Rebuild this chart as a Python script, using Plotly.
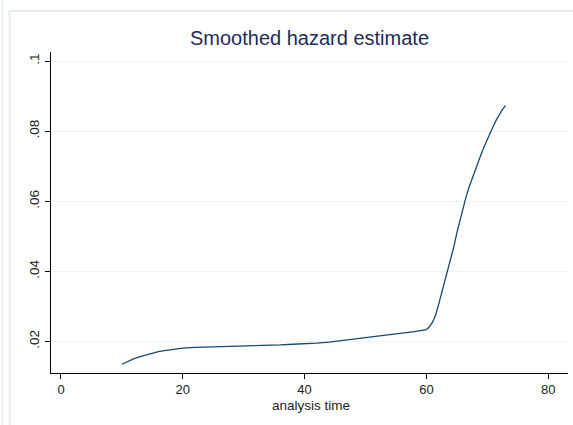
import plotly.graph_objects as go

# Smoothed hazard estimate over analysis time
analysis_time = [10, 11, 12, 13, 14, 15, 16, 17, 18, 19, 20, 22, 24, 26, 28, 30, 32, 34, 36, 38,
                 40, 42, 44, 46, 48, 50, 52, 54, 56, 58, 60, 60.5, 61, 61.5, 62, 62.5, 63, 63.5,
                 64, 64.5, 65, 65.5, 66, 66.5, 67, 67.5, 68, 68.5, 69, 69.5, 70, 70.5, 71, 71.5,
                 72, 72.5, 73]
hazard = [0.0135, 0.0144, 0.0151, 0.0157, 0.0162, 0.0167, 0.0171, 0.0174, 0.0177, 0.0180,
          0.0181, 0.0183, 0.0184, 0.0185, 0.0185, 0.0185, 0.0186, 0.0188, 0.0190, 0.0192,
          0.0193, 0.0195, 0.0198, 0.0202, 0.0207, 0.0211, 0.0215, 0.0219, 0.0223, 0.0228,
          0.0234, 0.0242, 0.0255, 0.0275, 0.0305, 0.0337, 0.0368, 0.0398, 0.0435, 0.0470,
          0.0510, 0.0545, 0.0582, 0.0612, 0.0640, 0.0665, 0.0690, 0.0715, 0.0735, 0.0757,
          0.0778, 0.0797, 0.0815, 0.0833, 0.0848, 0.0862, 0.0873]

x_ticks = [0, 20, 40, 60, 80]
y_ticks = [0.02, 0.04, 0.06, 0.08, 0.1]
y_tick_labels = [".02", ".04", ".06", ".08", ".1"]

FONT = "Arial, Liberation Sans, sans-serif"
FRAME = "#e6edef"
TEXT = "#222222"

fig = go.Figure()
fig.add_trace(go.Scatter(
    x=analysis_time, y=hazard, mode="lines",
    line=dict(color="#1a476f", width=1.3),
    showlegend=False, hoverinfo="skip",
))

fig.update_layout(
    width=573, height=425,
    margin=dict(l=51, r=5, t=52, b=52),
    paper_bgcolor="white", plot_bgcolor="white",
    font=dict(family=FONT, color=TEXT, size=12),
    title=dict(
        text="Smoothed hazard estimate",
        x=0.5, xref="paper", xanchor="center",
        y=1 - 38 / 425, yref="container", yanchor="middle",
        font=dict(family=FONT, size=20, color="#1e2c58"),
    ),
    xaxis=dict(
        range=[-1.64, 83.25], tickvals=x_ticks,
        showgrid=False, zeroline=False,
        showline=True, linecolor="black", linewidth=1.3,
        ticks="outside", ticklen=5, tickcolor="black", tickwidth=1,
        ticklabelstandoff=-1,
        tickfont=dict(size=13, color=TEXT),
    ),
    yaxis=dict(
        range=[0.011, 0.1026], tickvals=y_ticks, ticktext=y_tick_labels,
        tickangle=-90,
        showgrid=True, gridcolor="#eef3f3", gridwidth=1.2, zeroline=False,
        showline=True, linecolor="black", linewidth=1.3,
        ticks="outside", ticklen=5, tickcolor="black", tickwidth=1,
        tickfont=dict(size=13.5, color=TEXT),
    ),
    annotations=[dict(
        text="analysis time", xref="paper", yref="paper",
        x=(310.5 - 51) / 517, y=(373 - 405.5) / 321,
        xanchor="center", yanchor="middle", showarrow=False,
        font=dict(family=FONT, size=13.5, color=TEXT),
    )],
    shapes=[
        # outer graph-region border lines
        dict(type="line", xref="paper", yref="paper",
             x0=(2.5 - 51) / 517, x1=(2.5 - 51) / 517, y0=-0.5, y1=1.5,
             line=dict(color=FRAME, width=1.5), layer="below"),
        dict(type="line", xref="paper", yref="paper",
             x0=(9.5 - 51) / 517, x1=(9.5 - 51) / 517, y0=-0.5, y1=(373 - 11) / 321,
             line=dict(color=FRAME, width=2), layer="below"),
        dict(type="line", xref="paper", yref="paper",
             x0=(9.5 - 51) / 517, x1=1.5, y0=(373 - 11) / 321, y1=(373 - 11) / 321,
             line=dict(color=FRAME, width=2), layer="below"),
    ],
)

fig.write_html("out.html")
